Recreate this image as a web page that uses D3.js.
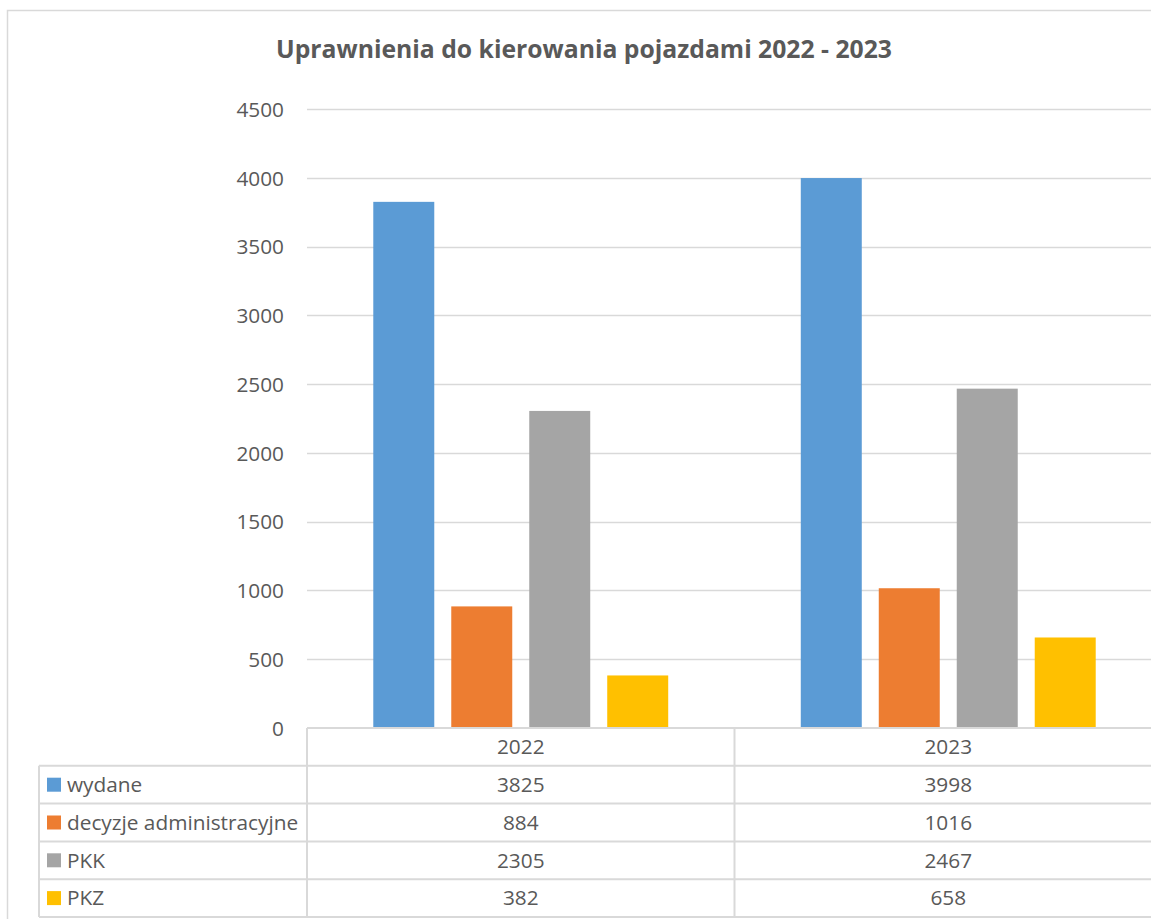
<!DOCTYPE html>
<html>
<head>
<meta charset="utf-8">
<script src="https://cdn.jsdelivr.net/npm/d3@7"></script>
<style>
  html, body { margin: 0; padding: 0; background: #fff; overflow: hidden; }
  svg { display: block; font-family: "Open Sans", sans-serif; }
</style>
</head>
<body>
<svg id="chart"></svg>
<script>
const years = ['2022', '2023'];
const seriesNames = ['wydane', 'decyzje administracyjne', 'PKK', 'PKZ'];
const wydane = [3825, 3998];
const decyzje = [884, 1016];
const pkk = [2305, 2467];
const pkz = [382, 658];
const yTicks = [0, 500, 1000, 1500, 2000, 2500, 3000, 3500, 4000, 4500];
const colors = ['#5b9bd5', '#ed7d31', '#a5a5a5', '#ffc000'];

const values = [wydane, decyzje, pkk, pkz];

const width = 1151;
const height = 919;
const grid = '#d9d9d9';
const textColor = '#595959';
const fs = '20.8px';

const svg = d3.select('#chart')
  .attr('width', width)
  .attr('height', height);

// outer chart border (right side runs off the picture)
svg.append('path')
  .attr('d', `M7.5,${height} V10.5 H${width}`)
  .attr('fill', 'none')
  .attr('stroke', grid)
  .attr('stroke-width', 1.5);

const plotLeft = 307;
const bandW = 427.5;
const y = d3.scaleLinear().domain([0, 4500]).range([728, 109]);
const x = d3.scaleBand().domain(years).range([plotLeft, plotLeft + bandW * years.length]);
const xs = d3.scaleBand().domain(seriesNames).range([0, x.bandwidth()])
  .paddingInner(17 / 78).paddingOuter(0.85);

// title
const title = svg.append('text')
  .attr('x', 584)
  .attr('y', 58)
  .attr('text-anchor', 'middle')
  .attr('fill', textColor)
  .style('font-weight', 'bold')
  .style('font-size', '24px')
  .text('Uprawnienia do kierowania pojazdami 2022 - 2023');
// squeeze to the width seen in the picture
const tw = title.node().getComputedTextLength();
title.style('font-size', (24 * 616 / tw).toFixed(2) + 'px');

// gridlines
svg.append('g')
  .selectAll('line')
  .data(yTicks.filter(d => d > 0))
  .join('line')
  .attr('x1', plotLeft)
  .attr('x2', width)
  .attr('y1', d => Math.round(y(d)) + 0.5)
  .attr('y2', d => Math.round(y(d)) + 0.5)
  .attr('stroke', grid)
  .attr('stroke-width', 1.5);

// y axis labels
const yAxis = svg.append('g')
  .attr('transform', `translate(${plotLeft - 23},0)`)
  .call(d3.axisLeft(y).tickValues(yTicks).tickFormat(d3.format('d')).tickSize(0).tickPadding(0));
yAxis.select('.domain').remove();
yAxis.selectAll('text')
  .attr('fill', textColor)
  .attr('dy', '0.35em')
  .style('font-size', fs)
  .style('font-family', '"Open Sans", sans-serif');

// bars
const groups = svg.append('g')
  .selectAll('g')
  .data(years)
  .join('g')
  .attr('transform', d => `translate(${x(d)},0)`);

groups.selectAll('rect')
  .data((yr, i) => seriesNames.map((s, k) => ({ s, k, v: values[k][i] })))
  .join('rect')
  .attr('x', d => xs(d.s))
  .attr('width', xs.bandwidth())
  .attr('y', d => y(d.v))
  .attr('height', d => y(0) - y(d.v))
  .attr('fill', d => colors[d.k]);

// data table
const rowH = 37.8;
const tableTop = y(0);
const tableLeft = 39;
const nRows = seriesNames.length + 1;
const tableBottom = tableTop + rowH * nRows;
const table = svg.append('g');

// horizontal lines
table.selectAll('line.h')
  .data(d3.range(nRows + 1))
  .join('line')
  .attr('class', 'h')
  .attr('x1', i => i === 0 ? plotLeft : tableLeft)
  .attr('x2', width)
  .attr('y1', i => tableTop + i * rowH)
  .attr('y2', i => tableTop + i * rowH)
  .attr('stroke', grid)
  .attr('stroke-width', 2);

// vertical lines
const vx = [plotLeft].concat(years.map(yr => x(yr) + x.bandwidth()));
table.selectAll('line.v')
  .data(vx)
  .join('line')
  .attr('class', 'v')
  .attr('x1', d => d)
  .attr('x2', d => d)
  .attr('y1', tableTop)
  .attr('y2', tableBottom)
  .attr('stroke', grid)
  .attr('stroke-width', 2);
table.append('line')
  .attr('x1', tableLeft).attr('x2', tableLeft)
  .attr('y1', tableTop + rowH).attr('y2', tableBottom)
  .attr('stroke', grid).attr('stroke-width', 2);

// header row
table.selectAll('text.yr')
  .data(years)
  .join('text')
  .attr('class', 'yr')
  .attr('x', d => x(d) + x.bandwidth() / 2)
  .attr('y', tableTop + rowH / 2)
  .attr('dy', '0.35em')
  .attr('text-anchor', 'middle')
  .attr('fill', textColor)
  .style('font-size', fs)
  .text(d => d);

// series rows
const rows = table.selectAll('g.row')
  .data(seriesNames)
  .join('g')
  .attr('class', 'row')
  .attr('transform', (d, k) => `translate(0,${tableTop + rowH * (k + 1)})`);

rows.append('rect')
  .attr('x', 47)
  .attr('y', rowH / 2 - 7)
  .attr('width', 14)
  .attr('height', 14)
  .attr('fill', (d, k) => colors[k]);

rows.append('text')
  .attr('x', 67)
  .attr('y', rowH / 2)
  .attr('dy', '0.35em')
  .attr('fill', textColor)
  .style('font-size', fs)
  .text(d => d);

rows.selectAll('text.val')
  .data((s, k) => years.map((yr, i) => ({ yr, v: values[k][i] })))
  .join('text')
  .attr('class', 'val')
  .attr('x', d => x(d.yr) + x.bandwidth() / 2)
  .attr('y', rowH / 2)
  .attr('dy', '0.35em')
  .attr('text-anchor', 'middle')
  .attr('fill', textColor)
  .style('font-size', fs)
  .text(d => d.v);
</script>
</body>
</html>
